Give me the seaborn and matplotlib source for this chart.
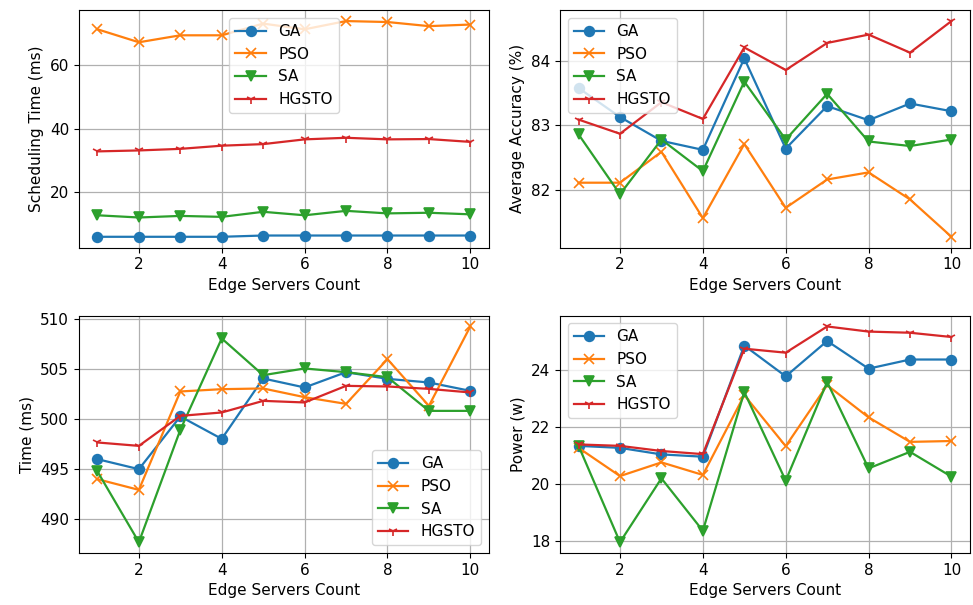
import seaborn as sns
import matplotlib
matplotlib.use("Agg")
import matplotlib.pyplot as plt

servers = [1, 2, 3, 4, 5, 6, 7, 8, 9, 10]
algorithms = ["GA", "PSO", "SA", "HGSTO"]

sched_time = {
    "GA": [5.8, 5.8, 5.8, 5.8, 6.2, 6.2, 6.2, 6.2, 6.2, 6.2],
    "PSO": [71.4, 67.3, 69.5, 69.5, 73.2, 71.4, 74.0, 73.7, 72.4, 72.9],
    "SA": [12.6, 11.9, 12.4, 12.1, 13.7, 12.6, 14.0, 13.2, 13.4, 12.9],
    "HGSTO": [32.8, 33.1, 33.6, 34.6, 35.1, 36.6, 37.1, 36.6, 36.7, 35.8],
}
accuracy = {
    "GA": [83.58, 83.13, 82.76, 82.62, 84.04, 82.64, 83.30, 83.08, 83.34, 83.22],
    "PSO": [82.11, 82.11, 82.59, 81.56, 82.71, 81.72, 82.16, 82.27, 81.85, 81.27],
    "SA": [82.86, 81.93, 82.78, 82.29, 83.68, 82.78, 83.49, 82.75, 82.68, 82.78],
    "HGSTO": [83.09, 82.87, 83.36, 83.10, 84.21, 83.86, 84.28, 84.41, 84.13, 84.62],
}
exec_time = {
    "GA": [496.0, 495.0, 500.27, 498.03, 504.07, 503.17, 504.7, 504.03, 503.67, 502.83],
    "PSO": [494.0, 492.93, 502.77, 503.0, 503.07, 502.2, 501.53, 506.0, 501.33, 509.27],
    "SA": [494.77, 487.7, 498.93, 508.07, 504.4, 505.07, 504.7, 504.2, 500.83, 500.83],
    "HGSTO": [497.67, 497.33, 500.33, 500.67, 501.83, 501.67, 503.33, 503.27, 503.03, 502.67],
}
power = {
    "GA": [21.35, 21.28, 21.05, 20.97, 24.87, 23.79, 25.03, 24.06, 24.38, 24.38],
    "PSO": [21.28, 20.29, 20.77, 20.33, 23.13, 21.34, 23.48, 22.35, 21.49, 21.52],
    "SA": [21.35, 17.97, 20.21, 18.37, 23.24, 20.13, 23.59, 20.56, 21.14, 20.27],
    "HGSTO": [21.40, 21.35, 21.17, 21.06, 24.76, 24.62, 25.54, 25.36, 25.32, 25.17],
}

markers = {"GA": "o", "PSO": "x", "SA": "v", "HGSTO": "1"}
colors = dict(zip(algorithms, sns.color_palette("tab10", 4)))

plt.rcParams["font.family"] = ["DejaVu Sans"]
plt.rcParams["font.size"] = 11

fig, axes = plt.subplots(2, 2, figsize=(9.73, 6.05), dpi=100)
fig.subplots_adjust(left=0.081, right=0.997, top=0.983, bottom=0.086,
                    wspace=0.173, hspace=0.287)

panels = [
    (axes[0, 0], sched_time, "Scheduling Time (ms)", "upper center"),
    (axes[0, 1], accuracy, "Average Accuracy (%)", "upper left"),
    (axes[1, 0], exec_time, "Time (ms)", "lower right"),
    (axes[1, 1], power, "Power (w)", "upper left"),
]

for ax, data, ylabel, loc in panels:
    for name in algorithms:
        sns.lineplot(x=servers, y=data[name], ax=ax, label=name,
                     marker=markers[name], color=colors[name],
                     markersize=7, linewidth=1.6,
                     markeredgecolor=colors[name], markeredgewidth=1.2)
    ax.grid(True, color="#b0b0b0", linewidth=0.9)
    ax.set_xlabel("Edge Servers Count")
    ax.set_ylabel(ylabel)
    ax.set_xticks([2, 4, 6, 8, 10])
    ax.legend(loc=loc, fontsize=11)

fig.savefig("out.png", dpi=100)
